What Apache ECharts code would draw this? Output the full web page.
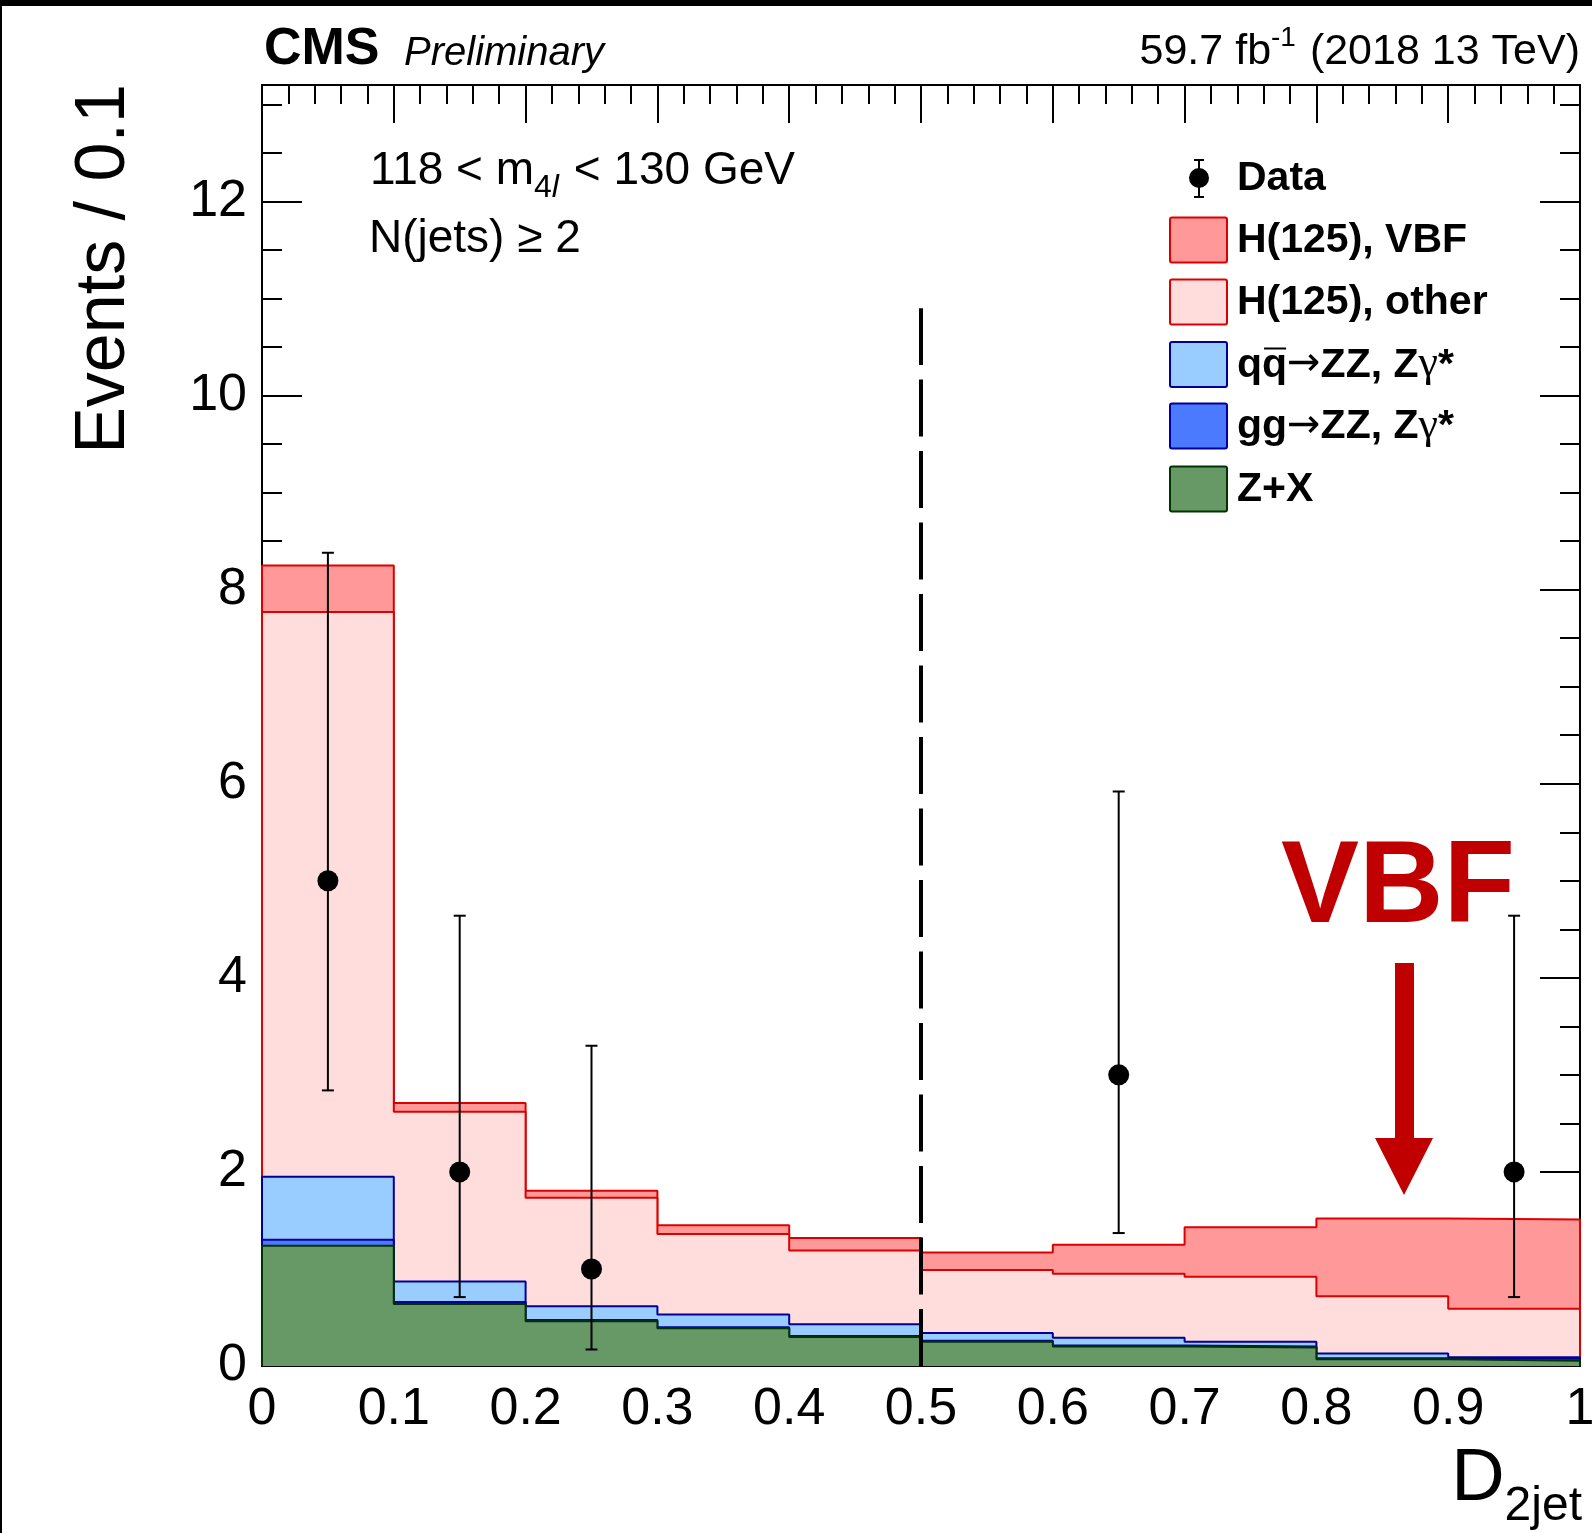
<!DOCTYPE html>
<html><head><meta charset="utf-8">
<script src="https://cdn.jsdelivr.net/npm/echarts@6/dist/echarts.min.js"></script>
<style>html,body{margin:0;padding:0;background:#fff}#c{width:1592px;height:1533px}</style>
</head><body><div id="c"></div>
<script>
// ---------------- data ----------------
const binLow = [0.0, 0.1, 0.2, 0.3, 0.4, 0.5, 0.6, 0.7, 0.8, 0.9];
const binWidth = 0.1;
const zPlusX  = [1.24, 0.64, 0.46, 0.39, 0.30, 0.25, 0.20, 0.19, 0.07, 0.055];
const ggZZ    = [0.06, 0.02, 0.015, 0.01, 0.01, 0.01, 0.01, 0.01, 0.01, 0.02];
const qqZZ    = [0.65, 0.21, 0.14, 0.13, 0.12, 0.08, 0.08, 0.05, 0.05, 0.015];
const hOther  = [5.82, 1.75, 1.12, 0.83, 0.76, 0.65, 0.66, 0.67, 0.59, 0.50];
const hVBF    = [0.48, 0.09, 0.07, 0.09, 0.13, 0.18, 0.30, 0.51, 0.80, 0.92];
const dataX   = [0.05, 0.15, 0.25, 0.65, 0.95];
const dataN   = [5, 2, 1, 3, 2];
const dataLo  = [2.84, 0.71, 0.17, 1.37, 0.71];
const dataHi  = [8.38, 4.64, 3.30, 5.92, 4.64];
const dividerX = 0.5;
const dividerTop = 10.9;
const xTickLabels = ['0','0.1','0.2','0.3','0.4','0.5','0.6','0.7','0.8','0.9','1'];
const yTickLabels = ['0','2','4','6','8','10','12'];
const legendLabels = ['Data','H(125), VBF','H(125), other','qq→ZZ, Zγ*','gg→ZZ, Zγ*','Z+X'];

// ---------------- helpers ----------------
const FF = "'Liberation Sans', Arial, Helvetica, sans-serif";
const FSYM = "'DejaVu Sans', sans-serif";
const FGAM = "'Liberation Serif', 'DejaVu Serif', serif";
const mctx = document.createElement('canvas').getContext('2d');
function tw(t, font){ mctx.font = font; return mctx.measureText(t).width; }
function fontStr(p){ return (p.st||'normal') + ' ' + (p.w||'normal') + ' ' + p.fs + 'px ' + (p.ff||FF); }
function pieces(x0, base, list, align, color){
  const ws = list.map(p => tw(p.t, fontStr(p)) + (p.pad||0));
  const total = ws.reduce((a,b)=>a+b,0);
  let x = align === 'right' ? x0 - total : x0;
  const els = [];
  list.forEach((p,i) => {
    els.push({type:'text', x: x + (p.dx||0), y: base + (p.dy||0) - 0.34*p.fs, z: 100,
      style:{text:p.t, font: fontStr(p), fill: p.color || color || '#000',
        textAlign:'left', align:'left', textVerticalAlign:'middle', verticalAlign:'middle'}});
    p._x = x; p._w = ws[i];
    x += ws[i];
  });
  return els;
}
function cumulate(){
  const arrs = Array.from(arguments);
  return binLow.map((_,i) => arrs.reduce((s,a)=>s+a[i],0));
}
function stepData(arr){
  const pts = [[binLow[0], 0]];
  arr.forEach((v,i) => pts.push([binLow[i], v]));
  const end = binLow[binLow.length-1] + binWidth;
  pts.push([end, arr[arr.length-1]]);
  pts.push([end, 0]);
  return pts;
}

const cZX = cumulate(zPlusX);
const cGG = cumulate(zPlusX, ggZZ);
const cQQ = cumulate(zPlusX, ggZZ, qqZZ);
const cOther = cumulate(zPlusX, ggZZ, qqZZ, hOther);
const cVBF = cumulate(zPlusX, ggZZ, qqZZ, hOther, hVBF);

const styles = [
  {fill:'#ff9999', line:'#dd0000'},
  {fill:'#ffdddd', line:'#dd0000'},
  {fill:'#99ccff', line:'#000099'},
  {fill:'#4c7aff', line:'#000099'},
  {fill:'#669966', line:'#003300'}
];
const stacks = [cVBF, cOther, cQQ, cGG, cZX];

const series = stacks.map((arr,k) => ({
  type:'line', step:'end', data: stepData(arr), symbol:'none', silent:true,
  lineStyle:{color: styles[k].line, width:2},
  areaStyle:{color: styles[k].fill, opacity:1, origin:'start'},
  z: 2 + k*0.01
}));

series.push({
  type:'line', data:[[dividerX, 0],[dividerX, dividerTop]], symbol:'none', silent:true,
  lineStyle:{color:'#000', width:4, type:[57, 14.5]}, z: 4
});
series.push({
  type:'custom', silent:true, z: 5,
  data: dataX.map((x,i)=>[x, dataLo[i], dataHi[i]]),
  encode:{x:0, y:[1,2]},
  renderItem: function(params, api){
    const x = api.value(0), lo = api.value(1), hi = api.value(2);
    const a = api.coord([x, lo]), b = api.coord([x, hi]);
    const st = {stroke:'#000', lineWidth:2};
    const cap = 6;
    return {type:'group', children:[
      {type:'line', shape:{x1:a[0], y1:a[1], x2:b[0], y2:b[1]}, style:st},
      {type:'line', shape:{x1:a[0]-cap, y1:a[1], x2:a[0]+cap, y2:a[1]}, style:st},
      {type:'line', shape:{x1:b[0]-cap, y1:b[1], x2:b[0]+cap, y2:b[1]}, style:st}
    ]};
  }
});
series.push({
  type:'scatter', data: dataX.map((x,i)=>[x, dataN[i]]), symbol:'circle', symbolSize:21,
  itemStyle:{color:'#000', opacity:1}, silent:true, z: 6
});

// ---------------- axes ----------------
const YMAX = 13.2;
const axLine = {show:true, onZero:false, lineStyle:{color:'#000', width:2}};
const tickStyle = {color:'#000', width:2};
function xAx(pos, labels){
  return {type:'value', position:pos, min:0, max:1, interval:0.1,
    axisLine: axLine,
    axisTick:{show:true, inside:true, length:38, lineStyle:tickStyle},
    minorTick:{show:true, splitNumber:5, length:19, lineStyle:tickStyle},
    splitLine:{show:false}, minorSplitLine:{show:false},
    axisLabel:{show:labels, margin:18, fontSize:52, color:'#000', fontFamily:FF,
      showMaxLabel:true, showMinLabel:true,
      formatter: v => { const i = Math.round(v*10); return (Math.abs(v*10-i)<1e-6 && xTickLabels[i]!==undefined) ? xTickLabels[i] : ''; }}
  };
}
function yAx(pos, interval, len, labels){
  return {type:'value', position:pos, min:0, max:YMAX, interval:interval,
    axisLine: axLine,
    axisTick:{show:true, inside:true, length:len, lineStyle:tickStyle},
    splitLine:{show:false},
    axisLabel:{show:labels, margin:15, fontSize:52, color:'#000', fontFamily:FF,
      showMaxLabel:false,
      formatter: v => { const i = Math.round(v/2); return (Math.abs(v/2-i)<1e-6 && yTickLabels[i]!==undefined) ? yTickLabels[i] : ''; }}
  };
}

// ---------------- graphics (texts, legend, annotation) ----------------
const g = [];
g.push({type:'rect', shape:{x:0,y:0,width:1592,height:6}, style:{fill:'#000'}, z:200});
g.push({type:'rect', shape:{x:0,y:0,width:2,height:1533}, style:{fill:'#000'}, z:200});

g.push(...pieces(264, 67, [{t:'CMS', fs:52, w:'bold'}]));
g.push(...pieces(404, 67, [{t:'Preliminary', fs:40, st:'italic'}]));
g.push(...pieces(1580, 67, [{t:'59.7 fb', fs:43}, {t:'-1', fs:28, dy:-19, pad:2}, {t:' (2018 13 TeV)', fs:43}], 'right'));
g.push(...pieces(370, 187, [{t:'118 < m', fs:46}, {t:'4', fs:32, dy:12}, {t:'l', fs:32, st:'italic', dy:12, pad:2}, {t:' < 130 GeV', fs:46}]));
g.push(...pieces(369, 255, [{t:'N(jets) ≥ 2', fs:46}]));

// y title
g.push({type:'text', x:105, y:269, rotation:Math.PI/2, z:100,
  style:{text:'Events / 0.1', font:'normal 70px '+FF, fill:'#000',
    textAlign:'center', align:'center', textVerticalAlign:'middle', verticalAlign:'middle'}});
// x title D_2jet
const subW = tw('2jet', 'normal 48px '+FF);
g.push(...pieces(1582 - subW, 1505, [{t:'D', fs:74}], 'right'));
g.push(...pieces(1582, 1523, [{t:'2jet', fs:48}], 'right'));

// legend
const rowY = [178, 240, 302, 364.5, 426, 489];
const boxX = 1170, boxW = 57, boxH = 45, textX = 1237;
g.push({type:'line', shape:{x1:1199, y1:160, x2:1199, y2:197}, style:{stroke:'#000', lineWidth:2}, z:100});
g.push({type:'line', shape:{x1:1194, y1:160, x2:1204, y2:160}, style:{stroke:'#000', lineWidth:2}, z:100});
g.push({type:'line', shape:{x1:1194, y1:197, x2:1204, y2:197}, style:{stroke:'#000', lineWidth:2}, z:100});
g.push({type:'circle', shape:{cx:1199, cy:178, r:10}, style:{fill:'#000'}, z:101});
g.push(...pieces(textX, rowY[0]+15, [{t:legendLabels[0], fs:41, w:'bold'}]));
[0,1,2,3,4].forEach((k, j) => {
  const cy = rowY[j+1];
  g.push({type:'rect', shape:{x:boxX, y:cy-boxH/2, width:boxW, height:boxH, r:2},
    style:{fill:styles[k].fill, stroke:styles[k].line, lineWidth:2}, z:100});
});
g.push(...pieces(textX, rowY[1]+15, [{t:legendLabels[1], fs:41, w:'bold'}]));
g.push(...pieces(textX, rowY[2]+15, [{t:legendLabels[2], fs:41, w:'bold'}]));
const arrowP = () => ({t:'→', fs:40, ff:FSYM, dy:-1});
const gamP = () => ({t:'γ', fs:44, ff:FGAM, dy:0});
const qqP = [{t:'q', fs:41, w:'bold'}, {t:'q', fs:41, w:'bold'}, arrowP(), {t:'ZZ, Z', fs:41, w:'bold'}, gamP(), {t:'*', fs:41, w:'bold'}];
g.push(...pieces(textX, rowY[3]+15, qqP));
g.push({type:'line', shape:{x1:qqP[1]._x+2, y1:rowY[3]+15-31, x2:qqP[1]._x+qqP[1]._w-1, y2:rowY[3]+15-31}, style:{stroke:'#000', lineWidth:2}, z:100});
g.push(...pieces(textX, rowY[4]+15, [{t:'gg', fs:41, w:'bold'}, arrowP(), {t:'ZZ, Z', fs:41, w:'bold'}, gamP(), {t:'*', fs:41, w:'bold'}]));
g.push(...pieces(textX, rowY[5]+15, [{t:legendLabels[5], fs:41, w:'bold'}]));

// VBF annotation
g.push(...pieces(1281, 930, [{t:'VBF', fs:117, w:'bold', color:'#c00000'}]));
g.push({type:'polygon', shape:{points:[[1395,963],[1414,963],[1414,1138],[1433,1138],[1404,1195],[1375,1138],[1395,1138]]},
  style:{fill:'#c00000'}, z:100});

const chart = echarts.init(document.getElementById('c'), null, {renderer:'canvas'});
chart.setOption({
  backgroundColor:'#fff',
  animation:false,
  grid:{left:262, top:85, width:1318, height:1281, containLabel:false, outerBoundsMode:'none'},
  xAxis:[xAx('bottom', true), xAx('top', false)],
  yAxis:[yAx('left', 2, 40, true), yAx('left', 0.5, 20, false), yAx('right', 2, 40, false), yAx('right', 0.5, 20, false)],
  series: series,
  graphic: g
});
</script></body></html>
